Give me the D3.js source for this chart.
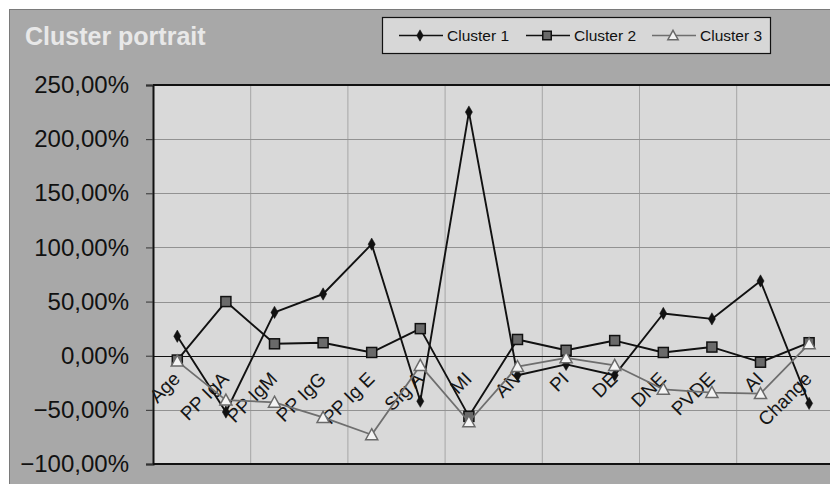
<!DOCTYPE html>
<html>
<head>
<meta charset="utf-8">
<script src="https://cdn.jsdelivr.net/npm/d3@7"></script>
<style>
  html, body { margin: 0; padding: 0; background: #ffffff; }
  svg { display: block; font-family: "Liberation Sans", Arial, sans-serif; }
</style>
</head>
<body>
<svg id="chart" width="830" height="484"></svg>
<script>
// Variables profiled per cluster (deviation from the overall mean, in %)
const categories = ["Age", "PP IgA", "PP IgM", "PP IgG", "PP Ig E", "SIg A", "MI",
                    "AN", "PI", "DE", "DNE", "PVDE", "AI", "Change"];
const cluster1 = [18, -52, 40, 57, 103, -42, 225, -18, -8, -18, 39, 34, 69, -44];
const cluster2 = [-4, 50, 11, 12, 3, 25, -56, 15, 5, 14, 3, 8, -6, 12];
const cluster3 = [-5, -41, -43, -57, -73, -9, -61, -10, -2, -9, -31, -34, -35, 11];
const seriesNames = ["Cluster 1", "Cluster 2", "Cluster 3"];
const yTicks = [-100, -50, 0, 50, 100, 150, 200, 250];
const chartTitle = "Cluster portrait";

const W = 830, H = 484;
const plot = { left: 153, top: 85, bottom: 464, step: 48.6 };

const svg = d3.select("#chart");

// chart area background
svg.append("rect")
  .attr("x", 9.5).attr("y", 9.5)
  .attr("width", W).attr("height", H)
  .attr("fill", "#a8a8a8")
  .attr("stroke", "#7a7a7a").attr("stroke-width", 1);

const x = d3.scaleBand()
  .domain(categories)
  .range([plot.left, plot.left + plot.step * categories.length])
  .paddingInner(0).paddingOuter(0);
const cx = d => x(d) + x.bandwidth() / 2;

const y = d3.scaleLinear().domain([-100, 250]).range([plot.bottom, plot.top]);

const pct = d3.formatLocale({ decimal: ",", thousands: ".", grouping: [3], currency: ["", "€"] })
  .format(".2%");

// plot area
svg.append("rect")
  .attr("x", plot.left).attr("y", plot.top)
  .attr("width", W - plot.left + 5).attr("height", plot.bottom - plot.top)
  .attr("fill", "#d9d9d9");

// vertical gridlines every two categories
const vGrid = categories.map((c, i) => i).filter(i => i > 0 && i % 2 === 0);
svg.append("g").selectAll("line").data(vGrid).join("line")
  .attr("x1", i => x(categories[i]) + 0.5).attr("x2", i => x(categories[i]) + 0.5)
  .attr("y1", plot.top).attr("y2", plot.bottom)
  .attr("stroke", "#a6a6a6").attr("stroke-width", 1);

// horizontal gridlines
svg.append("g").selectAll("line").data(yTicks.filter(t => t !== 0 && t !== 250 && t !== -100)).join("line")
  .attr("x1", plot.left).attr("x2", W)
  .attr("y1", d => Math.round(y(d)) + 0.5).attr("y2", d => Math.round(y(d)) + 0.5)
  .attr("stroke", "#929292").attr("stroke-width", 1);

// zero line
svg.append("line")
  .attr("x1", plot.left).attr("x2", W)
  .attr("y1", Math.round(y(0)) + 0.5).attr("y2", Math.round(y(0)) + 0.5)
  .attr("stroke", "#111").attr("stroke-width", 1.2);

// plot frame (top and bottom)
svg.append("line").attr("x1", plot.left).attr("x2", W).attr("y1", plot.top).attr("y2", plot.top)
  .attr("stroke", "#111").attr("stroke-width", 2);
svg.append("line").attr("x1", plot.left).attr("x2", W).attr("y1", plot.bottom).attr("y2", plot.bottom)
  .attr("stroke", "#111").attr("stroke-width", 2);

// y axis
const yAxis = d3.axisLeft(y).tickValues(yTicks).tickSize(7).tickFormat(d => pct(d / 100));
const gy = svg.append("g").attr("transform", `translate(${plot.left},0)`).call(yAxis);
gy.select(".domain").attr("stroke", "#111").attr("stroke-width", 2);
gy.selectAll(".tick line").attr("stroke", "#333");
gy.selectAll(".tick text")
  .attr("x", -24)
  .attr("font-size", 24)
  .attr("font-family", "'Liberation Sans', Arial, sans-serif")
  .attr("fill", "#111");

// category labels, rotated
svg.append("g").selectAll("text").data(categories).join("text")
  .attr("transform", d => `translate(${cx(d) + 4},${380}) rotate(-45)`)
  .attr("text-anchor", "end")
  .attr("font-size", 19)
  .attr("fill", "#151515")
  .text(d => d);

// series
const series = [
  { name: seriesNames[0], values: cluster1, line: "#111", width: 1.9, marker: "diamond" },
  { name: seriesNames[1], values: cluster2, line: "#111", width: 1.9, marker: "square" },
  { name: seriesNames[2], values: cluster3, line: "#6e6e6e", width: 1.8, marker: "triangle" }
];

const line = d3.line().x((v, i) => cx(categories[i])).y(v => y(v));

function drawMarker(g, type, px, py, scale = 1) {
  if (type === "diamond") {
    g.append("path")
      .attr("d", d3.symbol(d3.symbolDiamond, 44 * scale)())
      .attr("transform", `translate(${px},${py})`)
      .attr("fill", "#111").attr("stroke", "#111").attr("stroke-width", 0.5);
  } else if (type === "square") {
    const s = 10 * scale;
    g.append("rect")
      .attr("x", px - s / 2).attr("y", py - s / 2).attr("width", s).attr("height", s)
      .attr("fill", "#6a6a6a").attr("stroke", "#111").attr("stroke-width", 1.5);
  } else {
    const s = 11 * scale;
    g.append("path")
      .attr("d", `M${px},${py - s * 0.55}L${px + s * 0.55},${py + s * 0.45}L${px - s * 0.55},${py + s * 0.45}Z`)
      .attr("fill", "#f4f4f4").attr("stroke", "#6a6a6a").attr("stroke-width", 1.5);
  }
}

series.forEach(s => {
  const g = svg.append("g");
  g.append("path").datum(s.values)
    .attr("d", line)
    .attr("fill", "none")
    .attr("stroke", s.line).attr("stroke-width", s.width)
    .attr("stroke-linejoin", "round");
  s.values.forEach((v, i) => drawMarker(g, s.marker, cx(categories[i]), y(v)));
});

// title
svg.append("text")
  .attr("x", 25).attr("y", 45)
  .attr("font-size", 25).attr("font-weight", "bold")
  .attr("fill", "#e8e8e8")
  .text(chartTitle);

// legend
const legend = svg.append("g");
legend.append("rect")
  .attr("x", 382.5).attr("y", 17.5).attr("width", 388).attr("height", 36)
  .attr("fill", "#d7d7d7").attr("stroke", "#111").attr("stroke-width", 1.2);
const legendX = [399, 526, 652];
series.forEach((s, i) => {
  const x0 = legendX[i], ly = 35.5;
  legend.append("line")
    .attr("x1", x0).attr("x2", x0 + 44).attr("y1", ly).attr("y2", ly)
    .attr("stroke", s.line).attr("stroke-width", s.width - 0.3);
  drawMarker(legend, s.marker, x0 + 21, ly, 0.85);
  legend.append("text")
    .attr("x", x0 + 48).attr("y", ly)
    .attr("dy", "0.35em")
    .attr("font-size", 15.5)
    .attr("fill", "#111")
    .text(s.name);
});
</script>
</body>
</html>
